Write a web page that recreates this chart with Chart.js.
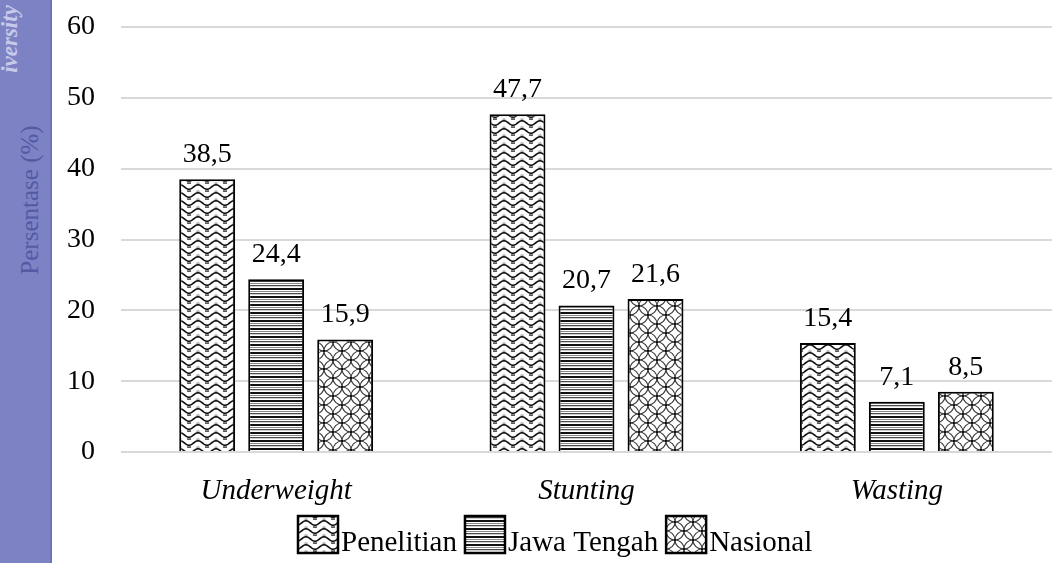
<!DOCTYPE html>
<html>
<head>
<meta charset="utf-8">
<script src="https://cdn.jsdelivr.net/npm/chart.js@4.4.1/dist/chart.umd.min.js"></script>
<style>
  html, body { margin: 0; padding: 0; background: #fff; }
  #wrap { position: relative; width: 1057px; height: 563px; overflow: hidden; }
  #strip {
    position: absolute; left: 0; top: 0; width: 50px; height: 563px;
    background: #7c82c3; border-right: 2px solid #6d73b5;
  }
  #ylab {
    position: absolute; left: 30px; top: 200px;
    transform: translate(-50%, -50%) rotate(-90deg);
    font-family: "Liberation Serif", serif; font-size: 25px;
    color: #535aa3; white-space: nowrap;
  }
  #mark {
    position: absolute; left: 10px; top: 39px;
    transform: translate(-50%, -50%) rotate(-90deg);
    font-family: "Liberation Serif", serif; font-size: 23px; font-weight: bold; font-style: italic;
    color: rgba(232,234,248,0.7); white-space: nowrap;
  }
  canvas { position: absolute; left: 0; top: 0; }
</style>
</head>
<body>
<div id="wrap">
  <canvas id="c" width="1057" height="563"></canvas>
  <div id="strip"></div>
  <div id="ylab">Persentase (%)</div>
  <div id="mark">iversity</div>
</div>
<script>
// Categories, series and axis ticks
const categories = ['Underweight', 'Stunting', 'Wasting'];
const seriesNames = ['Penelitian', 'Jawa Tengah', 'Nasional'];
const penelitian = [38.5, 47.7, 15.4];
const jawaTengah = [24.4, 20.7, 7.1];
const nasional = [15.9, 21.6, 8.5];
const yTicks = [0, 10, 20, 30, 40, 50, 60];

const FONT = '"Liberation Serif", "Times New Roman", serif';
const canvas = document.getElementById('c');
const ctx = canvas.getContext('2d');

// Fill patterns for the three series
function makeTile(w, h, draw) {
  const t = document.createElement('canvas');
  t.width = w; t.height = h;
  const g = t.getContext('2d');
  g.fillStyle = '#fff';
  g.fillRect(0, 0, w, h);
  draw(g);
  return ctx.createPattern(t, 'repeat');
}

// wavy rows with a dotted trough
const wavePat = makeTile(18, 8, g => {
  g.strokeStyle = '#111';
  g.lineWidth = 1.6;
  g.beginPath();
  for (let x = -1; x <= 19; x += 0.5) {
    const y = 3 - 2.2 * Math.cos((x / 18) * 2 * Math.PI);
    if (x === -1) g.moveTo(x, y); else g.lineTo(x, y);
  }
  g.stroke();
  g.fillStyle = '#333';
  g.fillRect(7, 6.4, 4, 1.4);
  g.fillStyle = '#777';
  g.fillRect(0, 6.6, 1.5, 1);
  g.fillRect(16.5, 6.6, 1.5, 1);
});

// horizontal stripes
const stripePat = makeTile(4, 8, g => {
  const rows = ['#111', '#111', '#fff', '#8a8a8a', '#fff', '#4a4a4a', '#d0d0d0', '#fff'];
  rows.forEach((c, i) => { g.fillStyle = c; g.fillRect(0, i, 4, 1); });
});

// overlapping scallops
const scalePat = makeTile(18, 18, g => {
  g.strokeStyle = '#3a3a3a';
  g.lineWidth = 1.1;
  [[0, 0], [18, 0], [0, 18], [18, 18], [9, 9]].forEach(([cx, cy]) => {
    g.beginPath();
    g.arc(cx, cy, 9, 0, Math.PI * 2);
    g.stroke();
  });
  g.fillStyle = '#111';
  [[9, 0], [0, 9], [18, 9], [9, 18]].forEach(([px, py]) => {
    g.fillRect(px - 1, py - 1, 2, 2);
  });
});

const patterns = [wavePat, stripePat, scalePat];
const values = [penelitian, jawaTengah, nasional];

const fmt = v => v.toFixed(1).replace('.', ',');

// value labels above each bar
const valueLabels = {
  id: 'valueLabels',
  afterDatasetsDraw(chart) {
    const c = chart.ctx;
    c.save();
    c.font = '28px ' + FONT;
    c.fillStyle = '#000';
    c.textAlign = 'center';
    c.textBaseline = 'alphabetic';
    chart.data.datasets.forEach((ds, i) => {
      chart.getDatasetMeta(i).data.forEach((bar, j) => {
        c.fillText(fmt(ds.data[j]), bar.x, bar.y - 17);
      });
    });
    c.restore();
  }
};

// legend row: patterned key followed directly by its name
const legendRow = {
  id: 'legendRow',
  afterDraw(chart) {
    const c = chart.ctx;
    c.save();
    c.font = '29px ' + FONT;
    const boxW = 40, boxH = 37, gap = 3, space = 8;
    const top = 516, baseline = 551;
    let x = 298;
    chart.data.datasets.forEach(ds => {
      const w = c.measureText(ds.label).width;
      c.fillStyle = ds.backgroundColor;
      c.fillRect(x, top, boxW, boxH);
      c.strokeStyle = '#000';
      c.lineWidth = 2.5;
      c.strokeRect(x, top, boxW, boxH);
      c.fillStyle = '#000';
      c.textBaseline = 'alphabetic';
      c.textAlign = 'left';
      c.fillText(ds.label, x + boxW + gap, baseline);
      x += boxW + gap + w + space;
    });
    c.restore();
  }
};

new Chart(ctx, {
  type: 'bar',
  data: {
    labels: categories,
    datasets: seriesNames.map((name, i) => ({
      label: name,
      data: values[i],
      backgroundColor: patterns[i],
      borderColor: '#000',
      borderWidth: 2,
      categoryPercentage: 0.667,
      barPercentage: 0.81
    }))
  },
  options: {
    responsive: false,
    animation: false,
    events: [],
    layout: { padding: { top: 27, right: 5, left: 0, bottom: 0 } },
    plugins: {
      legend: { display: false },
      tooltip: { enabled: false }
    },
    scales: {
      x: {
        grid: { display: false, drawTicks: false },
        border: { display: false },
        ticks: {
          color: '#000',
          padding: 22,
          font: { family: FONT, size: 29, style: 'italic' }
        },
        afterFit(scale) { scale.height = 111; }
      },
      y: {
        min: 0,
        max: 60,
        afterBuildTicks(scale) { scale.ticks = yTicks.map(v => ({ value: v })); },
        grid: { color: '#d9d9d9', lineWidth: 2, drawTicks: false },
        border: { display: false },
        ticks: {
          color: '#000',
          padding: 26,
          font: { family: FONT, size: 28 }
        },
        afterFit(scale) {
          scale.width = 121;
          scale.paddingTop = 0;
          scale.paddingBottom = 0;
        }
      }
    }
  },
  plugins: [valueLabels, legendRow]
});
</script>
</body>
</html>
